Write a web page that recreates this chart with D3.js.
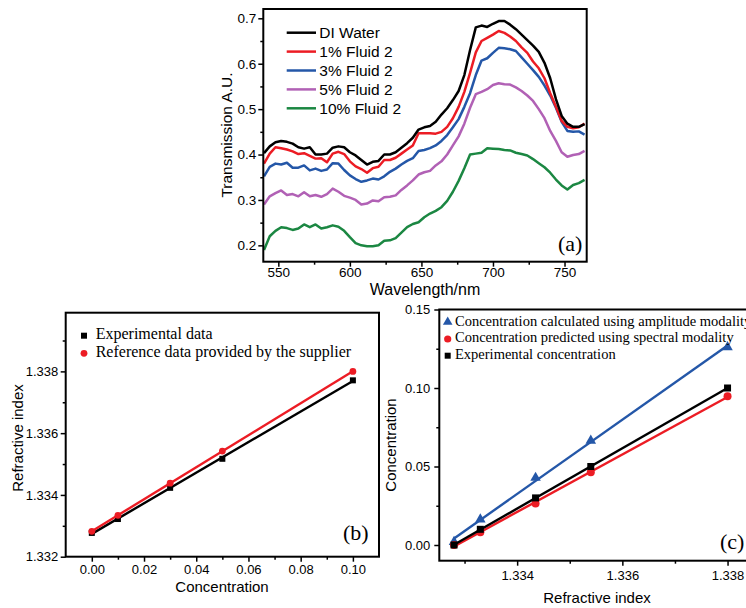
<!DOCTYPE html>
<html>
<head>
<meta charset="utf-8">
<script src="https://cdn.jsdelivr.net/npm/d3@7"></script>
<style>
  body { margin: 0; background: #fff; }
  svg { display: block; }
</style>
</head>
<body>
<div id="fig"></div>
<script>
// ---- panel (a): transmission spectra ----
const wavelength = [540, 544, 548, 552, 556, 560, 564, 568, 572, 576, 580, 584, 588, 592, 596,
  600, 604, 608, 612, 616, 620, 624, 628, 632, 636, 640, 644, 648, 652, 656, 660, 664, 668, 672,
  676, 680, 684, 688, 692, 696, 700, 704, 708, 712, 716, 720, 724, 728, 732, 736, 740, 744, 748,
  752, 756, 760, 764];
const diWater = [0.403, 0.418, 0.427, 0.430, 0.428, 0.424, 0.416, 0.413, 0.416, 0.400, 0.400, 0.402,
  0.415, 0.418, 0.416, 0.405, 0.398, 0.388, 0.378, 0.384, 0.386, 0.400, 0.400, 0.405, 0.415, 0.425,
  0.437, 0.455, 0.460, 0.463, 0.472, 0.488, 0.502, 0.520, 0.540, 0.575, 0.630, 0.680, 0.684, 0.681,
  0.688, 0.694, 0.694, 0.686, 0.676, 0.664, 0.652, 0.640, 0.626, 0.602, 0.568, 0.522, 0.485, 0.468,
  0.461, 0.461, 0.467];
const fluid1 = [0.380, 0.402, 0.416, 0.414, 0.411, 0.407, 0.401, 0.403, 0.397, 0.391, 0.392, 0.383,
  0.402, 0.406, 0.401, 0.385, 0.374, 0.368, 0.360, 0.370, 0.373, 0.388, 0.388, 0.393, 0.402, 0.411,
  0.420, 0.447, 0.447, 0.447, 0.446, 0.450, 0.461, 0.480, 0.505, 0.538, 0.580, 0.625, 0.650, 0.657,
  0.664, 0.672, 0.668, 0.660, 0.650, 0.636, 0.624, 0.605, 0.590, 0.568, 0.535, 0.505, 0.474, 0.461,
  0.458, 0.460, 0.468];
const fluid3 = [0.352, 0.373, 0.380, 0.378, 0.382, 0.371, 0.371, 0.376, 0.365, 0.369, 0.364, 0.367,
  0.381, 0.380, 0.366, 0.354, 0.346, 0.340, 0.343, 0.347, 0.345, 0.352, 0.362, 0.369, 0.378, 0.386,
  0.392, 0.408, 0.410, 0.414, 0.420, 0.430, 0.443, 0.460, 0.478, 0.505, 0.535, 0.575, 0.607, 0.612,
  0.624, 0.635, 0.634, 0.632, 0.628, 0.614, 0.600, 0.586, 0.571, 0.552, 0.530, 0.503, 0.472, 0.452,
  0.450, 0.451, 0.444];
const fluid5 = [0.290, 0.308, 0.315, 0.321, 0.311, 0.313, 0.308, 0.317, 0.308, 0.311, 0.307, 0.313,
  0.325, 0.318, 0.309, 0.305, 0.300, 0.290, 0.292, 0.299, 0.297, 0.306, 0.307, 0.310, 0.322, 0.332,
  0.343, 0.356, 0.361, 0.364, 0.376, 0.385, 0.400, 0.420, 0.440, 0.468, 0.503, 0.533, 0.538, 0.544,
  0.553, 0.557, 0.555, 0.554, 0.548, 0.540, 0.530, 0.518, 0.500, 0.480, 0.452, 0.430, 0.405, 0.395,
  0.399, 0.401, 0.408];
const fluid10 = [0.190, 0.220, 0.232, 0.240, 0.238, 0.234, 0.237, 0.246, 0.240, 0.246, 0.237, 0.240,
  0.244, 0.241, 0.232, 0.218, 0.205, 0.200, 0.198, 0.198, 0.200, 0.210, 0.211, 0.216, 0.228, 0.240,
  0.247, 0.251, 0.262, 0.270, 0.276, 0.284, 0.298, 0.318, 0.342, 0.370, 0.400, 0.402, 0.404, 0.414,
  0.413, 0.412, 0.410, 0.409, 0.404, 0.401, 0.398, 0.390, 0.381, 0.372, 0.360, 0.345, 0.332, 0.323,
  0.333, 0.337, 0.344];
const spectraNames = ["DI Water", "1% Fluid 2", "3% Fluid 2", "5% Fluid 2", "10% Fluid 2"];
const spectraColors = ["#000000", "#ec1c24", "#2457a8", "#b161b5", "#1b8742"];

// ---- panel (b): refractive index vs concentration ----
const concentration = [0, 0.01, 0.03, 0.05, 0.10];
const riExperimental = [1.33277, 1.33322, 1.33423, 1.33517, 1.33771];
const riReference = [1.33282, 1.33334, 1.33438, 1.33542, 1.33800];

// ---- panel (c): concentration vs refractive index ----
const riC = [1.3328, 1.3333, 1.33435, 1.3354, 1.338];
const concAmplitude = [0.002, 0.0163, 0.0428, 0.0665, 0.126];
const concSpectral = [0.0, 0.0081, 0.0265, 0.0464, 0.0947];
const concExperimental = [0, 0.01, 0.03, 0.05, 0.10];

const sans = "'Liberation Sans', Arial, sans-serif";
const serif = "'Liberation Serif', 'Times New Roman', serif";

const svg = d3.select("#fig").append("svg")
  .attr("width", 746)
  .attr("height", 608);

// draw frame + major/minor ticks for one panel
function axes(box, x, y, o) {
  const g = svg.append("g");
  const style = sel => {
    sel.select(".domain").remove();
    sel.selectAll("line").attr("stroke", "#000").attr("stroke-width", 1.5);
    sel.selectAll("text").attr("fill", "#000").style("font-family", sans).style("font-size", o.fontSize + "px");
  };
  g.append("g").attr("transform", `translate(0,${box.bottom})`)
    .call(d3.axisBottom(x).tickValues(o.xMinor).tickSize(3).tickFormat("")).call(style);
  g.append("g").attr("transform", `translate(0,${box.bottom})`)
    .call(d3.axisBottom(x).tickValues(o.xMajor).tickSize(5).tickPadding(o.xPad).tickFormat(d3.format(o.xFmt))).call(style);
  g.append("g").attr("transform", `translate(${box.left},0)`)
    .call(d3.axisLeft(y).tickValues(o.yMinor).tickSize(3).tickFormat("")).call(style);
  g.append("g").attr("transform", `translate(${box.left},0)`)
    .call(d3.axisLeft(y).tickValues(o.yMajor).tickSize(5).tickPadding(o.yPad).tickFormat(d3.format(o.yFmt))).call(style);
  g.append("rect")
    .attr("x", box.left).attr("y", box.top)
    .attr("width", box.right - box.left).attr("height", box.bottom - box.top)
    .attr("fill", "none").attr("stroke", "#000").attr("stroke-width", 2);
  return g;
}

function label(text, x, y, size, family, rotate) {
  svg.append("text")
    .attr("transform", `translate(${x},${y})` + (rotate ? " rotate(-90)" : ""))
    .attr("text-anchor", "middle")
    .style("font-family", family)
    .style("font-size", size + "px")
    .text(text);
}

// least squares line over the data range
function fitLine(xs, ys) {
  const mx = d3.mean(xs), my = d3.mean(ys);
  const slope = d3.sum(xs, (v, i) => (v - mx) * (ys[i] - my)) / d3.sum(xs, v => (v - mx) ** 2);
  const x0 = d3.min(xs), x1 = d3.max(xs);
  return [[x0, my + slope * (x0 - mx)], [x1, my + slope * (x1 - mx)]];
}

// ================= (a) =================
{
  const box = {left: 263.3, right: 586.7, top: 9, bottom: 261.7};
  const x = d3.scaleLinear([539.5, 765.5], [box.left, box.right]);
  const y = d3.scaleLinear([0.164, 0.7205], [box.bottom, box.top]);
  const series = [diWater, fluid1, fluid3, fluid5, fluid10];

  const line = d3.line().x((d, i) => x(wavelength[i])).y(d => y(d));
  // draw bottom series first so black sits on top
  svg.append("g").selectAll("path")
    .data(series.map((s, i) => ({s, i})).reverse())
    .join("path")
    .attr("d", d => line(d.s))
    .attr("fill", "none")
    .attr("stroke", d => spectraColors[d.i])
    .attr("stroke-width", 2.5)
    .attr("stroke-linejoin", "round");

  axes(box, x, y, {
    xMajor: [550, 600, 650, 700, 750], xMinor: [575, 625, 675, 725],
    yMajor: [0.2, 0.3, 0.4, 0.5, 0.6, 0.7], yMinor: [0.25, 0.35, 0.45, 0.55, 0.65],
    xFmt: "d", yFmt: ".1f", xPad: 1, yPad: 2, fontSize: 13.5
  });

  const legend = svg.append("g");
  spectraNames.forEach((name, i) => {
    const ly = 32.7 + i * 18.9;
    legend.append("line").attr("x1", 286.7).attr("x2", 316).attr("y1", ly).attr("y2", ly)
      .attr("stroke", spectraColors[i]).attr("stroke-width", 2.5);
    legend.append("text").attr("x", 319.3).attr("y", ly).attr("dy", "0.36em")
      .style("font-family", sans).style("font-size", "15.5px").text(name);
  });

  label("Wavelength/nm", 425, 295, 16, sans);
  label("Transmission A.U.", 232, 135, 15.5, sans, true);
  svg.append("text").attr("x", 558).attr("y", 250.5)
    .style("font-family", serif).style("font-size", "22px").text("(a)");
}

// ================= (b) =================
{
  const box = {left: 65.7, right: 379, top: 312.7, bottom: 556.7};
  const x = d3.scaleLinear([-0.01, 0.11], [box.left, box.right]);
  const y = d3.scaleLinear([1.332, 1.3399], [box.bottom, box.top]);
  const line = d3.line().x(d => x(d[0])).y(d => y(d[1]));

  svg.append("path").attr("d", line(fitLine(concentration, riExperimental)))
    .attr("stroke", "#000").attr("stroke-width", 2.4).attr("fill", "none");
  svg.append("g").selectAll("rect").data(riExperimental).join("rect")
    .attr("x", (d, i) => x(concentration[i]) - 3).attr("y", d => y(d) - 3)
    .attr("width", 6).attr("height", 6).attr("fill", "#000");
  svg.append("path").attr("d", line(fitLine(concentration, riReference)))
    .attr("stroke", "#ec1c24").attr("stroke-width", 2.4).attr("fill", "none");
  svg.append("g").selectAll("circle").data(riReference).join("circle")
    .attr("cx", (d, i) => x(concentration[i])).attr("cy", d => y(d))
    .attr("r", 3.4).attr("fill", "#ec1c24");

  axes(box, x, y, {
    xMajor: [0, 0.02, 0.04, 0.06, 0.08, 0.10], xMinor: [0.01, 0.03, 0.05, 0.07, 0.09],
    yMajor: [1.332, 1.334, 1.336, 1.338], yMinor: [1.333, 1.335, 1.337, 1.339],
    xFmt: ".2f", yFmt: ".3f", xPad: 3, yPad: 2.4, fontSize: 13
  });

  svg.append("rect").attr("x", 81).attr("y", 332.7).attr("width", 6).attr("height", 6).attr("fill", "#000");
  svg.append("text").attr("x", 95.7).attr("y", 338.5)
    .style("font-family", serif).style("font-size", "16px").text("Experimental data");
  svg.append("circle").attr("cx", 84).attr("cy", 353.3).attr("r", 3.4).attr("fill", "#ec1c24");
  svg.append("text").attr("x", 95.7).attr("y", 357)
    .style("font-family", serif).style("font-size", "16px").text("Reference data provided by the supplier");

  label("Concentration", 222, 591.5, 15, sans);
  label("Refractive index", 23, 438, 15, sans, true);
  svg.append("text").attr("x", 343).attr("y", 539.5)
    .style("font-family", serif).style("font-size", "22px").text("(b)");
}

// ================= (c) =================
{
  const box = {left: 439.3, right: 755, top: 309.5, bottom: 560.7};
  const x = d3.scaleLinear([1.33252, 1.3385], [box.left, box.left + 0.00598 * 52600]);
  const y = d3.scaleLinear([-0.01, 0.15], [box.bottom, box.top]);
  const line = d3.line().x(d => x(d[0])).y(d => y(d[1]));
  const blue = "#2457a8", red = "#ec1c24";

  // amplitude modality (blue triangles)
  svg.append("path").attr("d", line(fitLine(riC, concAmplitude)))
    .attr("stroke", blue).attr("stroke-width", 2.4).attr("fill", "none");
  svg.append("g").selectAll("path").data(concAmplitude).join("path")
    .attr("transform", (d, i) => `translate(${x(riC[i])},${y(d)})`)
    .attr("d", d3.symbol(d3.symbolTriangle, 48))
    .attr("fill", blue);
  // spectral modality (red circles)
  svg.append("path").attr("d", line(fitLine(riC, concSpectral)))
    .attr("stroke", red).attr("stroke-width", 2.4).attr("fill", "none");
  svg.append("g").selectAll("circle").data(concSpectral).join("circle")
    .attr("cx", (d, i) => x(riC[i])).attr("cy", d => y(d))
    .attr("r", 4).attr("fill", red);
  // experimental (black squares)
  svg.append("path").attr("d", line(fitLine(riC, concExperimental)))
    .attr("stroke", "#000").attr("stroke-width", 2.4).attr("fill", "none");
  svg.append("g").selectAll("rect").data(concExperimental).join("rect")
    .attr("x", (d, i) => x(riC[i]) - 3.5).attr("y", d => y(d) - 3.5)
    .attr("width", 7).attr("height", 7).attr("fill", "#000");

  axes(box, x, y, {
    xMajor: [1.334, 1.336, 1.338], xMinor: [1.333, 1.335, 1.337],
    yMajor: [0, 0.05, 0.10, 0.15], yMinor: [0.025, 0.075, 0.125],
    xFmt: ".3f", yFmt: ".2f", xPad: 5, yPad: 4, fontSize: 13
  });

  const lg = svg.append("g");
  lg.append("path").attr("transform", "translate(447.7,322)")
    .attr("d", d3.symbol(d3.symbolTriangle, 40)).attr("fill", blue);
  lg.append("text").attr("x", 455).attr("y", 325.7)
    .style("font-family", serif).style("font-size", "14.5px")
    .text("Concentration calculated using amplitude modality");
  lg.append("circle").attr("cx", 447.7).attr("cy", 339).attr("r", 3.6).attr("fill", red);
  lg.append("text").attr("x", 455).attr("y", 342.3)
    .style("font-family", serif).style("font-size", "14.5px")
    .text("Concentration predicted using spectral modality");
  lg.append("rect").attr("x", 444.7).attr("y", 352.7).attr("width", 6).attr("height", 6).attr("fill", "#000");
  lg.append("text").attr("x", 455).attr("y", 358.8)
    .style("font-family", serif).style("font-size", "14.5px")
    .text("Experimental concentration");

  label("Refractive index", 597, 603, 15, sans);
  label("Concentration", 396, 445, 15, sans, true);
  svg.append("text").attr("x", 720).attr("y", 548.5)
    .style("font-family", serif).style("font-size", "22px").text("(c)");
}
</script>
</body>
</html>
